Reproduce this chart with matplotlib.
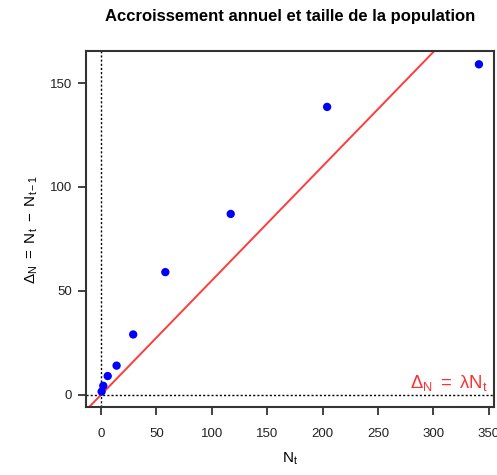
import matplotlib
matplotlib.use("Agg")
import matplotlib.pyplot as plt

plt.rcParams['font.family'] = ['Liberation Sans', 'DejaVu Sans']
plt.rcParams['mathtext.fontset'] = 'custom'
plt.rcParams['mathtext.rm'] = 'Liberation Sans'
plt.rcParams['mathtext.it'] = 'Liberation Sans'
plt.rcParams['mathtext.default'] = 'regular'

# Data
N_t = [0.5, 2, 6, 14, 29, 58, 117, 204, 341]
delta_N = [1.5, 4.3, 9, 14, 29, 59, 87, 138.5, 159]
lam = 0.55
x_ticks = [0, 50, 100, 150, 200, 250, 300, 350]
y_ticks = [0, 50, 100, 150]

title = "Accroissement annuel et taille de la population"

fig = plt.figure(figsize=(4.97, 4.75), dpi=100)
ax = fig.add_axes([86/497, 1-407/475, (494-86)/497, (407-51)/475])

ax.set_xlim(-13.6, 354.6)
ax.set_ylim(-5.9, 165.4)

ax.axhline(0, color='black', lw=1, ls=(0, (1.5, 1.5)))
ax.axvline(0, color='black', lw=1, ls=(0, (1.5, 1.5)))
ax.axline((0, 0), slope=lam, color='#ff3b3b', lw=1.4)

ax.scatter(N_t, delta_N, s=36, color='#0000ff', zorder=3, edgecolors='none')

ax.text(349, 5.8, r'$\Delta_N\ =\ \lambda N_t$', color='#ff3030', fontsize=13.3,
        ha='right', va='center')

ax.set_xticks(x_ticks)
ax.set_yticks(y_ticks)
ax.tick_params(direction='out', length=6, width=1.2, labelsize=9.5, colors='#222222')
ax.tick_params(axis='x', pad=9)
ax.tick_params(axis='y', pad=4)
for s in ax.spines.values():
    s.set_linewidth(1.5)
    s.set_color('#333333')

ax.set_xlabel(r'$N_t$', fontsize=11, labelpad=8)
ax.set_ylabel(r'$\Delta_N\ =\ N_t\ -\ N_{t-1}$', fontsize=11, labelpad=7)
fig.text(290/497, 1-16/475, title, fontsize=12, fontweight='bold', ha='center', va='center')

fig.savefig('out.png', dpi=100)
